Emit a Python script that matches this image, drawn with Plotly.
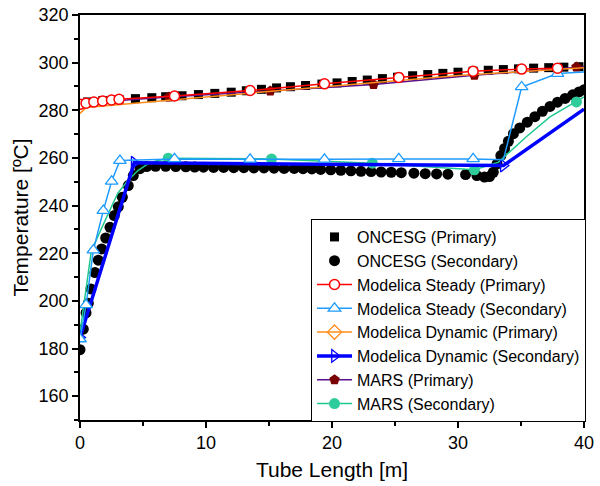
import plotly.graph_objects as go

# ---------------- data ----------------
oncesg_p_x = [0.6, 1.8, 3.1, 4.4, 5.7, 6.8, 8.1, 9.4, 10.7, 12.0, 13.2, 14.4, 15.6, 16.7, 17.9,
              19.2, 20.4, 21.6, 22.8, 24.0, 25.2, 26.4, 27.6, 28.8, 30.0, 31.2, 32.4, 33.6,
              34.8, 36.0, 37.2, 38.4, 39.6]
oncesg_p_y = [283.5, 284.0, 284.5, 284.9, 285.3, 285.7, 286.1, 286.6, 287.1, 287.6, 288.2, 288.8,
              289.4, 289.9, 290.4, 291.0, 291.5, 292.1, 292.7, 293.3, 293.9, 294.5, 295.0, 295.5,
              296.0, 296.4, 296.8, 297.1, 297.4, 297.7, 297.9, 298.1, 298.3]

oncesg_s_x = [0.0, 0.26, 0.48, 0.66, 0.87, 1.19, 1.45, 1.72, 2.04, 2.38, 2.72, 3.04, 3.36, 3.83,
              4.23, 4.76, 5.3, 6.0, 6.8, 7.6, 8.4, 9.1, 9.8, 10.6, 11.4, 12.2, 13.0, 13.8, 14.6,
              15.4, 16.2, 17.0, 17.7, 18.4, 19.1, 19.9, 20.7, 21.5, 22.3, 23.1, 23.9, 24.7, 25.5,
              26.5, 27.4, 28.3, 29.2, 30.6, 31.5, 32.1, 32.5, 32.8, 33.1, 33.4, 33.7, 34.0, 34.4,
              34.9, 35.5, 36.1, 36.7, 37.3, 37.9, 38.5, 39.1, 39.6, 40.0]
oncesg_s_y = [179.5, 188.1, 195.0, 199.0, 205.0, 211.9, 217.1, 221.8, 226.4, 230.9, 235.8, 239.5,
              243.5, 248.4, 252.6, 255.5, 256.4, 256.5, 256.5, 256.4, 256.3, 256.2, 256.1, 256.0,
              256.0, 255.9, 255.9, 255.8, 255.8, 255.7, 255.6, 255.6, 255.5, 255.4, 255.2, 255.0,
              254.8, 254.6, 254.4, 254.3, 254.1, 254.0, 253.8, 253.6, 253.4, 253.3, 253.2, 253.0,
              252.6, 252.0, 252.2, 254.0, 257.5, 261.0, 264.0, 267.0, 270.2, 272.6, 275.0, 277.3,
              279.6, 281.6, 283.4, 285.0, 286.5, 287.7, 288.6]

ms_p_x = [0.0, 0.48, 1.1, 1.8, 2.5, 3.1, 7.5, 13.5, 19.4, 25.3, 31.2, 35.05, 37.9]
ms_p_y = [282.5, 283.0, 283.5, 283.9, 284.3, 284.6, 286.0, 288.3, 291.1, 293.8, 296.4, 297.3, 297.7]
ms_p_mark = [1] * len(ms_p_x)

ms_s_x = [0.0, 0.48, 1.06, 1.85, 2.51, 3.17, 7.5, 13.5, 19.4, 25.3, 31.2, 33.6, 35.05, 37.9, 40.0]
ms_s_y = [184.0, 198.3, 221.3, 237.9, 250.2, 258.9, 259.6, 259.4, 259.4, 259.6, 259.6, 259.2,
          289.8, 295.4, 296.1]
ms_s_mark = [1, 1, 1, 1, 1, 1, 1, 1, 1, 1, 1, 0, 1, 1, 0]

md_p_x = [0.0, 0.5, 10.0, 20.0, 30.0, 40.0]
md_p_y = [278.7, 281.2, 285.6, 290.2, 294.6, 297.9]
md_p_mark = [0, 0, 0, 0, 0, 0]

md_s_x = [0.0, 4.3, 33.6, 40.0]
md_s_y = [184.6, 258.0, 256.8, 280.5]
md_s_mark = [1, 1, 1, 0]

mars_p_x = [0.0, 7.06, 15.1, 23.3, 31.3, 39.4, 40.0]
mars_p_y = [283.0, 285.6, 288.1, 290.8, 294.7, 298.2, 298.3]
mars_p_mark = [0, 1, 1, 1, 1, 1, 0]

mars_s_x = [0.0, 0.9, 2.1, 3.0, 3.8, 4.6, 5.3, 6.0, 7.0, 15.2, 23.2, 31.3, 33.2, 35.4, 37.3, 39.4, 40.0]
mars_s_y = [186.7, 221.0, 235.0, 245.2, 250.5, 254.7, 257.2, 258.6, 259.9, 259.6, 257.8, 255.0,
            258.2, 268.8, 277.2, 283.5, 285.6]
mars_s_mark = [0, 0, 0, 0, 0, 0, 0, 0, 1, 1, 1, 1, 0, 0, 0, 1, 0]

x_ticks = [0, 10, 20, 30, 40]
y_ticks = [160, 180, 200, 220, 240, 260, 280, 300, 320]

FONT = "Liberation Sans, Arial, sans-serif"

fig = go.Figure()


def marked(xs, ys, mask):
    """Marker positions, each isolated by a gap so no line is drawn between them."""
    mx, my = [], []
    for x, y, m in zip(xs, ys, mask):
        if m:
            mx += [x, None]
            my += [y, None]
    if not mx:
        mx, my = [None], [None]
    return mx, my


def series(name, xs, ys, mask, line, marker, rank):
    fig.add_trace(go.Scatter(x=xs, y=ys, mode="lines", line=line, showlegend=False,
                             hoverinfo="skip"))
    mx, my = marked(xs, ys, mask)
    fig.add_trace(go.Scatter(x=mx, y=my, mode="lines+markers", name=name, line=line,
                             marker=marker, connectgaps=False, legendrank=rank))


# ONCESG
fig.add_trace(go.Scatter(x=oncesg_p_x, y=oncesg_p_y, mode="markers", name="ONCESG (Primary)",
                         marker=dict(symbol="square", size=9, color="black"), legendrank=1))
fig.add_trace(go.Scatter(x=oncesg_s_x, y=oncesg_s_y, mode="markers", name="ONCESG (Secondary)",
                         marker=dict(symbol="circle", size=11, color="black"), legendrank=2))
# MARS
series("MARS (Primary)", mars_p_x, mars_p_y, mars_p_mark,
       dict(color="#5B0F8A", width=1.5),
       dict(symbol="pentagon", size=11, color="#7A0000", line=dict(width=0)), 7)
series("MARS (Secondary)", mars_s_x, mars_s_y, mars_s_mark,
       dict(color="#1FC98E", width=1.5),
       dict(symbol="circle", size=11, color="#2ECC9A", line=dict(width=0)), 8)
# Modelica Dynamic
series("Modelica Dynamic (Primary)", md_p_x, md_p_y, md_p_mark,
       dict(color="#FF8C1A", width=1.5),
       dict(symbol="diamond-open", size=11, color="#FF8C1A", line=dict(width=1.3)), 5)
series("Modelica Dynamic (Secondary)", md_s_x, md_s_y, md_s_mark,
       dict(color="#0000FF", width=3.5),
       dict(symbol="triangle-right-open", size=11, color="#0000FF", line=dict(width=1.3)), 6)
# Modelica Steady
series("Modelica Steady (Secondary)", ms_s_x, ms_s_y, ms_s_mark,
       dict(color="#1E9BFF", width=1.5),
       dict(symbol="triangle-up", size=11, color="white", line=dict(width=1.3, color="#1E9BFF")), 4)
series("Modelica Steady (Primary)", ms_p_x, ms_p_y, ms_p_mark,
       dict(color="#FF0000", width=1.5),
       dict(symbol="circle", size=10, color="white", line=dict(width=1.5, color="#FF0000")), 3)

axis_common = dict(showline=True, linecolor="black", linewidth=1.5, mirror=True,
                   ticks="outside", ticklen=6, tickwidth=1.5, tickcolor="black",
                   showgrid=False, zeroline=False, automargin=False,
                   ticklabeloverflow="allow",
                   tickfont=dict(family=FONT, size=18, color="black"))

fig.update_xaxes(range=[0, 40], tickvals=x_ticks,
                 minor=dict(ticks="outside", ticklen=4, tickwidth=1.5, tickcolor="black", dtick=5),
                 title=dict(text="Tube Length [m]", font=dict(family=FONT, size=21, color="black"),
                            standoff=10),
                 **axis_common)
fig.update_yaxes(range=[150, 320], tickvals=y_ticks,
                 minor=dict(ticks="outside", ticklen=4, tickwidth=1.5, tickcolor="black", dtick=10),
                 title=dict(text="Temperature [ºC]", font=dict(family=FONT, size=21, color="black"),
                            standoff=4),
                 **axis_common)

fig.update_layout(
    width=600, height=486,
    margin=dict(l=80, r=16, t=15, b=66),
    plot_bgcolor="white", paper_bgcolor="white",
    font=dict(family=FONT, color="black"),
    legend=dict(x=1.004, y=-0.005, xanchor="right", yanchor="bottom",
                bgcolor="white", bordercolor="black", borderwidth=1,
                font=dict(family=FONT, size=16, color="black"),
                itemwidth=35, tracegroupgap=0, traceorder="normal"),
)

fig.write_html("out.html", config={"displayModeBar": False},
               post_script="document.body.style.margin='0px';")
